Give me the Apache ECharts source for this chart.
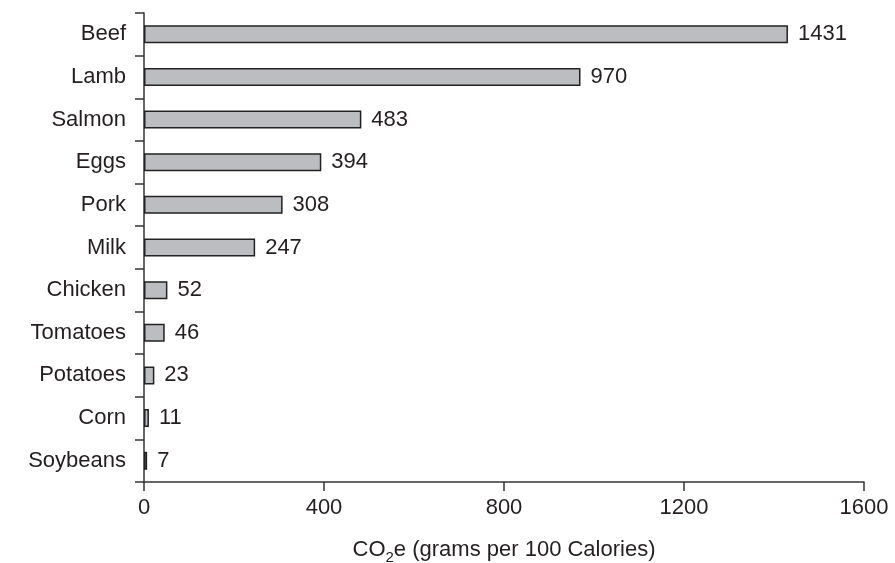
<!DOCTYPE html>
<html>
<head>
<meta charset="utf-8">
<script src="https://cdn.jsdelivr.net/npm/echarts@6/dist/echarts.min.js"></script>
<style>
  html, body { margin: 0; padding: 0; background: #fff; }
  #chart { width: 895px; height: 563px; }
</style>
</head>
<body>
<div id="chart"></div>
<script>
  // data
  var foods = ['Beef', 'Lamb', 'Salmon', 'Eggs', 'Pork', 'Milk', 'Chicken', 'Tomatoes', 'Potatoes', 'Corn', 'Soybeans'];
  var co2e = [1431, 970, 483, 394, 308, 247, 52, 46, 23, 11, 7];
  var xTicks = [0, 400, 800, 1200, 1600];

  var ink = '#231f20';
  var font = 'Liberation Sans, Arial, Helvetica, sans-serif';
  var fs = 22;

  var chart = echarts.init(document.getElementById('chart'));
  chart.setOption({
    animation: false,
    grid: { left: 144, right: 31, top: 13, bottom: 81, containLabel: false, outerBoundsMode: 'none' },
    xAxis: {
      type: 'value',
      min: xTicks[0],
      max: xTicks[xTicks.length - 1],
      interval: xTicks[1] - xTicks[0],
      splitLine: { show: false },
      axisLine: { show: true, lineStyle: { color: '#333', width: 1.5 } },
      axisTick: { show: true, length: 9, lineStyle: { color: '#333', width: 1.5 } },
      axisLabel: {
        color: ink, fontSize: fs, fontFamily: font, margin: 15,
        formatter: function(v) { return String(v); }
      },
      name: '{a|CO}{s|2}{a|e (grams per 100 Calories)}',
      nameLocation: 'middle',
      nameGap: 52,
      nameTextStyle: {
        rich: {
          a: { color: ink, fontSize: fs, fontFamily: font },
          s: { color: ink, fontSize: 15, fontFamily: font, padding: [16, 0, 0, 0] }
        }
      }
    },
    yAxis: {
      type: 'category',
      data: foods,
      inverse: true,
      axisLine: { show: true, lineStyle: { color: '#333', width: 1.5 } },
      axisTick: { show: true, length: 9, lineStyle: { color: '#333', width: 1.5 } },
      axisLabel: { color: ink, fontSize: fs, fontFamily: font, margin: 18 }
    },
    series: [{
      type: 'bar',
      data: co2e,
      barWidth: 18,
      itemStyle: { color: '#bcbdc0', borderColor: '#222', borderWidth: 1.5 },
      label: {
        show: true,
        position: 'right',
        distance: 10,
        color: ink,
        fontSize: fs,
        fontFamily: font
      }
    }]
  });
</script>
</body>
</html>
